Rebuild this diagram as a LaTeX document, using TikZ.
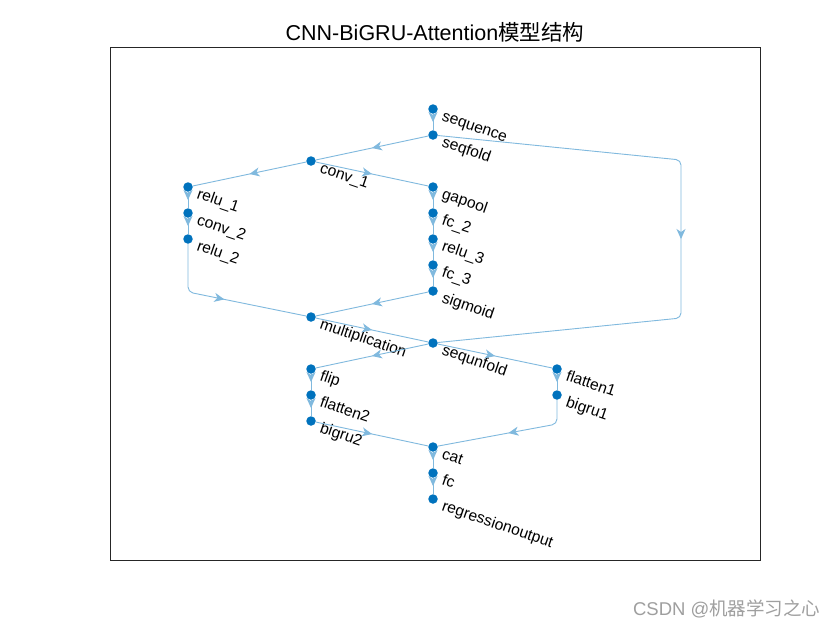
\documentclass[tikz,border=0pt]{standalone}
\usepackage{fontspec}
\setmainfont{Liberation Sans}
\newfontfamily\cjk{Noto Sans CJK SC}
\usetikzlibrary{arrows.meta, decorations.markings}
\definecolor{mblue}{RGB}{0,114,189}
\definecolor{eblue}{RGB}{128,185,222}
\definecolor{axgray}{RGB}{38,38,38}

\begin{document}
\begin{tikzpicture}[
    x=1pt, y=-1pt,
    layer/.style={circle, fill=mblue, inner sep=0pt, minimum size=9.5pt},
    lbl/.style={anchor=base west, rotate=-19, inner sep=0pt, font=\fontsize{15.6}{18}\selectfont},
    edge/.style={color=eblue, line width=0.9pt, postaction={decorate},
        decoration={markings, mark=at position 0.5 with {\arrow{Stealth[length=10pt, width=9pt, inset=3pt]}}}},
    axbox/.style={draw=axgray, line width=0.7pt}
]
    \useasboundingbox (0,0) rectangle (840,630);
    \fill[white] (0,0) rectangle (840,630);

    % Title and axes
    \node[anchor=base, font=\fontsize{21.5}{25}\selectfont] (title) at (435,40) {CNN-BiGRU-Attention{\cjk 模型结构}};
    \draw[axbox] (110,47) rectangle (760,560);

    % Layers
    \foreach \id/\lab/\px/\py in {
        sequence/sequence/433/109, seqfold/seqfold/433/135, conv1/conv\_1/311/161,
        relu1/relu\_1/188/187, conv2/conv\_2/188/213, relu2/relu\_2/188/239,
        gapool/gapool/433/187, fc2/fc\_2/433/213, relu3/relu\_3/433/239,
        fc3/fc\_3/433/265, sigmoid/sigmoid/433/291, multiplication/multiplication/311/317,
        sequnfold/sequnfold/433/343, flip/flip/311/369, flatten2/flatten2/311/395,
        bigru2/bigru2/311/421, flatten1/flatten1/557/369, bigru1/bigru1/557/395,
        cat/cat/433/447, fc/fc/433/473, regressionoutput/regressionoutput/433/499}
    {
        \node[layer] (\id) at (\px,\py) {};
        \node[lbl] (\id-txt) at ([shift={(8,11)}]\id.center) {\lab};
    }

    % Bend points
    \coordinate (foldtop) at (681,160);
    \coordinate (foldbot) at (681,318);
    \coordinate (relubend) at (188,292);
    \coordinate (grubend) at (557,424);

    % Connectors
    \foreach \a/\b in {sequence/seqfold, seqfold/conv1, conv1/relu1, conv1/gapool,
        relu1/conv2, conv2/relu2, gapool/fc2, fc2/relu3, relu3/fc3, fc3/sigmoid,
        sigmoid/multiplication, multiplication/sequnfold, sequnfold/flip,
        sequnfold/flatten1, flip/flatten2, flatten2/bigru2, flatten1/bigru1,
        bigru2/cat, cat/fc, fc/regressionoutput}
        \draw[edge] (\a) -- (\b);
    \draw[edge, rounded corners=5pt] (seqfold) -- (foldtop) -- (foldbot) -- (sequnfold);
    \draw[edge, rounded corners=5pt] (relu2) -- (relubend) -- (multiplication);
    \draw[edge, rounded corners=5pt] (bigru1) -- (grubend) -- (cat);

    % Watermark
    \node[anchor=base east, text=gray!75, font=\fontsize{18.5}{22}\selectfont] (mark) at (824,615) {CSDN @{\cjk 机器学习之心}};
\end{tikzpicture}
\end{document}
